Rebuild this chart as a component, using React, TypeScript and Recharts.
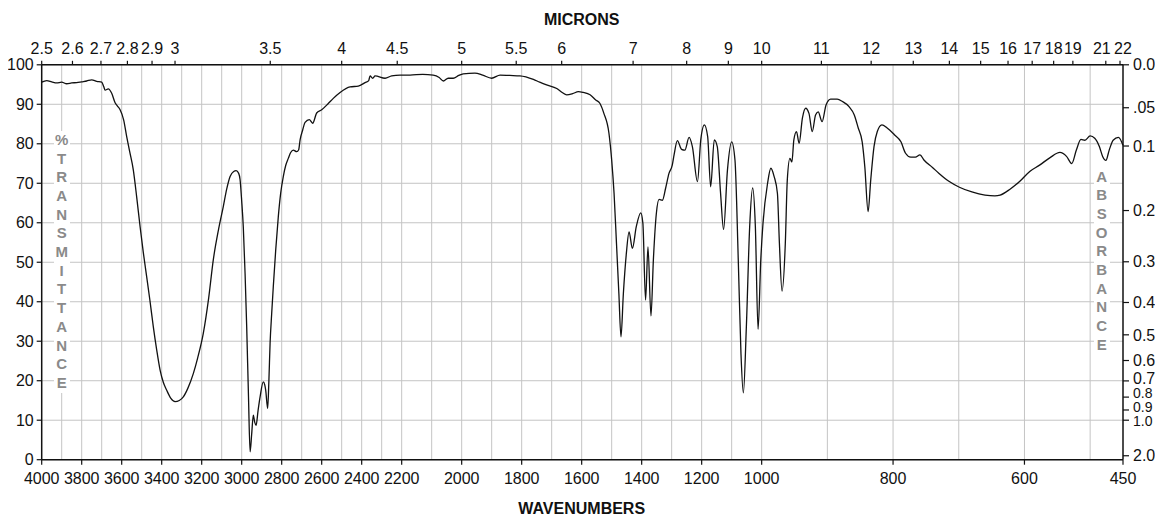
import React from 'react';
import { LineChart, Line, XAxis, YAxis, CartesianGrid } from 'recharts';

// ---- data (wavenumber in cm-1, % transmittance) ----
const wavenumbers = [
  4000, 3975, 3950, 3925, 3900, 3875, 3850, 3825, 3800, 3775, 3750, 3725, 3700, 3690, 3683, 3667, 3650, 3633, 3620, 3608,
  3590, 3575, 3560, 3542, 3525, 3508, 3492, 3475, 3458, 3442, 3425, 3408, 3392, 3375, 3355, 3333, 3312, 3292, 3270, 3242,
  3220, 3192, 3165, 3142, 3115, 3092, 3075, 3058, 3040, 3028, 3015, 3008, 3000, 2992, 2983, 2975, 2966, 2958, 2950, 2942,
  2935, 2928, 2918, 2908, 2892, 2885, 2880, 2870, 2864, 2858, 2850, 2842, 2830, 2817, 2805, 2792, 2780, 2767, 2755, 2742,
  2725, 2715, 2708, 2695, 2683, 2662, 2645, 2625, 2600, 2567, 2542, 2508, 2458, 2417, 2383, 2365, 2358, 2345, 2333, 2283,
  2250, 2208, 2172, 2130, 2095, 2075, 2061, 2045, 2028, 2010, 1995, 1956, 1930, 1900, 1872, 1840, 1806, 1761, 1740, 1717,
  1683, 1665, 1650, 1630, 1611, 1595, 1572, 1553, 1539, 1526, 1509, 1500, 1492, 1484, 1476, 1469, 1461, 1451, 1442, 1431,
  1418, 1403, 1396, 1387, 1379, 1369, 1361, 1351, 1342, 1331, 1320, 1309, 1298, 1292, 1281, 1267, 1256, 1242, 1231, 1214,
  1203, 1191, 1180, 1170, 1158, 1148, 1137, 1127, 1114, 1100, 1089, 1078, 1069, 1061, 1051, 1040, 1030, 1021, 1012, 1003,
  998, 991, 986, 981, 976, 973, 969, 964, 961, 957, 954, 951, 947, 943, 938, 933, 928, 923, 918, 914,
  908, 902, 895, 885, 877, 867, 859, 853, 847, 843, 838, 834, 829, 824, 817, 809, 798, 788, 781, 773,
  766, 759, 753, 740, 730, 715, 699, 680, 660, 645, 637, 622, 607, 592, 577, 561, 546, 536, 528, 521,
  514, 508, 500, 493, 486, 481, 476, 471, 465, 457, 450,
];

const transmittance = [
  95.6, 96.0, 95.7, 95.4, 95.6, 95.2, 95.4, 95.5, 95.7, 95.9, 96.2, 95.8, 95.6, 94.5, 93.6, 93.9, 92.8, 90.4, 89.5, 88.6,
  86.0, 81.8, 78.0, 73.4, 66.5, 59.0, 52.5, 46.3, 40.0, 33.7, 27.8, 22.7, 19.6, 17.6, 15.6, 14.7, 15.0, 15.9, 18.0, 21.8,
  25.8, 32.0, 41.0, 50.6, 58.5, 64.1, 68.5, 71.7, 73.0, 73.2, 72.5, 70.9, 65.5, 59.0, 47.0, 33.7, 16.0, 2.0, 6.5, 11.3,
  9.5, 8.7, 12.5, 15.9, 19.7, 19.0, 17.6, 13.0, 20.0, 29.5, 37.0, 43.8, 53.0, 61.5, 67.5, 71.7, 74.5, 76.3, 77.8, 78.4,
  78.0, 78.5, 81.0, 83.5, 85.4, 86.1, 85.2, 87.8, 88.6, 90.2, 91.5, 93.0, 94.4, 94.6, 95.5, 96.0, 97.2, 96.6, 97.2, 96.6,
  97.2, 97.4, 97.4, 97.6, 97.4, 96.8, 95.9, 96.6, 96.6, 97.3, 97.7, 97.9, 97.4, 96.6, 97.4, 97.3, 97.2, 96.3, 95.6, 94.9,
  94.0, 93.0, 92.4, 92.7, 93.2, 93.0, 92.4, 91.1, 90.2, 87.7, 82.6, 75.9, 67.4, 54.8, 42.1, 31.1, 42.1, 52.3, 57.7, 53.5,
  59.0, 62.5, 59.9, 40.4, 53.9, 36.4, 50.6, 62.4, 65.9, 65.7, 68.8, 72.5, 74.6, 77.2, 80.8, 78.6, 78.4, 81.6, 79.3, 70.4,
  81.0, 84.8, 81.8, 69.1, 81.0, 79.3, 67.5, 58.3, 73.4, 80.5, 75.9, 50.6, 26.9, 16.9, 33.7, 59.0, 68.8, 59.0, 33.0, 50.6,
  59.8, 70.0, 73.8, 71.7, 67.4, 54.8, 42.7, 54.8, 70.8, 76.3, 75.4, 81.0, 83.1, 80.1, 86.5, 89.0, 87.7, 83.1, 87.3, 88.1,
  85.6, 89.8, 91.3, 91.3, 90.7, 89.4, 87.3, 84.0, 80.5, 74.2, 62.8, 70.8, 79.3, 83.1, 84.8, 84.0, 82.3, 80.5, 77.6, 76.6,
  76.6, 77.2, 75.9, 74.0, 72.5, 70.5, 69.0, 67.8, 67.0, 66.8, 67.0, 68.5, 70.5, 73.0, 74.6, 76.5, 77.8, 76.8, 75.0, 78.4,
  81.1, 80.9, 82.0, 81.4, 79.3, 76.8, 75.8, 78.4, 80.9, 81.6, 79.6,
];

// ---- tick labels ----
const wavenumberTicks = [4000, 3800, 3600, 3400, 3200, 3000, 2800, 2600, 2400, 2200, 2000, 1800, 1600, 1400, 1200, 1000, 800, 600, 450];
const micronTicks = [2.5, 2.6, 2.7, 2.8, 2.9, 3, 3.5, 4, 4.5, 5, 5.5, 6, 7, 8, 9, 10, 11, 12, 13, 14, 15, 16, 17, 18, 19, 21, 22];
const micronLabels = ['2.5', '2.6', '2.7', '2.8', '2.9', '3', '3.5', '4', '4.5', '5', '5.5', '6', '7', '8', '9', '10', '11', '12', '13', '14', '15', '16', '17', '18', '19', '21', '22'];
const percentTicks = [0, 10, 20, 30, 40, 50, 60, 70, 80, 90, 100];
const absorbanceTicks = [0, 0.05, 0.1, 0.2, 0.3, 0.4, 0.5, 0.6, 0.7, 0.8, 0.9, 1.0, 2.0];
const absorbanceLabels = ['0.0', '.05', '0.1', '0.2', '0.3', '0.4', '0.5', '0.6', '0.7', '0.8', '0.9', '1.0', '2.0'];
const gridWavenumbers = [
  3900, 3800, 3700, 3600, 3500, 3400, 3300, 3200, 3100, 3000, 2900, 2800, 2700, 2600, 2500, 2400, 2300, 2200,
  2100, 2000, 1900, 1800, 1700, 1600, 1500, 1400, 1300, 1200, 1100, 1000, 900, 800, 700, 600, 500,
];

// piecewise-linear wavenumber axis (three segments, as on the chart paper)
function pos(w: number): number {
  if (w >= 2200) return (4000 - w) * 0.2;
  if (w >= 1000) return 360 + (2200 - w) * 0.3;
  return 720 + (1000 - w) * 0.657;
}
const P_MAX = pos(450);

const data = wavenumbers.map((w, i) => ({ p: pos(w), t: transmittance[i] }));

const bottomTickPos = wavenumberTicks.map(pos);
const topTickPos = micronTicks.map((m) => pos(10000 / m));
const absTickT = absorbanceTicks.map((a) => 100 * Math.pow(10, -a)).sort((a, b) => a - b);
const absLabelsSorted = absorbanceLabels.slice().reverse();

function nearestIndex(v: number, positions: number[]) {
  let best = 0;
  let bd = Infinity;
  positions.forEach((p, i) => {
    const d = Math.abs(p - v);
    if (d < bd) { bd = d; best = i; }
  });
  return best;
}

const FONT = '"Liberation Sans", Arial, Helvetica, sans-serif';
const tickStyle = { fontSize: 16, fill: '#111', fontFamily: FONT };
const axisLineStyle = { stroke: '#111', strokeWidth: 1.5 };
const tickLineStyle = { stroke: '#111', strokeWidth: 1.2 };

const micronNudge: Record<string, number> = { '21': -4, '22': 3 };
// crowded absorbance labels: slightly smaller, spread as on the chart paper
const absStyleTweak: Record<string, { size: number; dy: number }> = {
  '0.7': { size: 16, dy: -3 },
  '0.8': { size: 14, dy: -4 },
  '0.9': { size: 14, dy: -3 },
  '1.0': { size: 14, dy: 1 },
};

const TopTick = (props: any) => {
  const { x, y, payload } = props;
  const label = micronLabels[nearestIndex(payload.value, topTickPos)];
  const dx = micronNudge[label] || 0;
  return (
    <text x={x + dx} y={y} textAnchor="middle" fontSize={16} fill="#111" fontFamily={FONT}>
      {label}
    </text>
  );
};

const RightTick = (props: any) => {
  const { x, y, payload } = props;
  const label = absLabelsSorted[nearestIndex(payload.value, absTickT)];
  const tw = absStyleTweak[label];
  return (
    <text
      x={x}
      y={y + (tw ? tw.dy : 0)}
      dy="0.355em"
      textAnchor="start"
      fontSize={tw ? tw.size : 16}
      fill="#111"
      fontFamily={FONT}
    >
      {label}
    </text>
  );
};

const leftLetters = ['%', 'T', 'R', 'A', 'N', 'S', 'M', 'I', 'T', 'T', 'A', 'N', 'C', 'E'];
const rightLetters = ['A', 'B', 'S', 'O', 'R', 'B', 'A', 'N', 'C', 'E'];

const letterCol = (letters: string[], left: number, top: number) => (
  <div
    style={{
      position: 'absolute',
      left,
      top,
      width: 16,
      background: '#fff',
      fontFamily: FONT,
      fontWeight: 700,
      fontSize: 15,
      color: '#8a8a8a',
      lineHeight: '18.7px',
      textAlign: 'center',
    }}
  >
    {letters.map((l, i) => (
      <div key={i}>{l}</div>
    ))}
  </div>
);

export default function App() {
  return (
    <div style={{ position: 'relative', width: 1155, height: 508 }}>
      <LineChart
        width={1155}
        height={508}
        data={data}
        margin={{ top: 26.8, right: 0, bottom: 26.3, left: 3.7 }}
      >
        <CartesianGrid
          xAxisId="bottom"
          yAxisId="left"
          stroke="#c4c4c4"
          strokeWidth={1}
          verticalCoordinatesGenerator={(props: any) => {
            const xa = props && props.xAxis;
            const s = xa && xa.scale;
            if (typeof s === 'function') return gridWavenumbers.map((w) => s(pos(w)));
            const off = props.offset;
            return gridWavenumbers.map((w) => off.left + (pos(w) / P_MAX) * off.width);
          }}
        />
        <XAxis
          xAxisId="bottom"
          dataKey="p"
          type="number"
          orientation="bottom"
          domain={[0, P_MAX]}
          ticks={bottomTickPos}
          interval={0}
          height={30}
          tickSize={5}
          tickMargin={8}
          tick={tickStyle}
          axisLine={axisLineStyle}
          tickLine={tickLineStyle}
          tickFormatter={(v: number) => String(wavenumberTicks[nearestIndex(v, bottomTickPos)])}
        />
        <XAxis
          xAxisId="top"
          dataKey="p"
          type="number"
          orientation="top"
          domain={[0, P_MAX]}
          ticks={topTickPos}
          interval={0}
          height={30}
          tickSize={4}
          tickMargin={7}
          tick={<TopTick />}
          axisLine={axisLineStyle}
          tickLine={tickLineStyle}
        />
        <YAxis
          yAxisId="left"
          dataKey="t"
          type="number"
          domain={[0, 100]}
          ticks={percentTicks}
          interval={0}
          width={30}
          tickSize={5}
          tickMargin={3}
          tick={tickStyle}
          axisLine={axisLineStyle}
          tickLine={tickLineStyle}
        />
        <YAxis
          yAxisId="right"
          dataKey="t"
          orientation="right"
          type="number"
          domain={[0, 100]}
          ticks={absTickT}
          interval={0}
          width={40}
          tickSize={6}
          tickMargin={4}
          tick={<RightTick />}
          axisLine={axisLineStyle}
          tickLine={tickLineStyle}
        />
        <Line
          xAxisId="top"
          yAxisId="right"
          type="monotone"
          dataKey="t"
          stroke="none"
          strokeWidth={0}
          dot={false}
          activeDot={false}
          isAnimationActive={false}
        />
        <Line
          xAxisId="bottom"
          yAxisId="left"
          type="monotone"
          dataKey="t"
          stroke="#111"
          strokeWidth={1.3}
          dot={false}
          activeDot={false}
          isAnimationActive={false}
        />
      </LineChart>
      {letterCol(leftLetters, 45.7, 122.8)}
      {letterCol(rightLetters, 1085.7, 159.5)}
      <div
        style={{
          position: 'absolute', left: 473.7, width: 200, top: 4.2, textAlign: 'center',
          fontFamily: FONT, fontWeight: 700, fontSize: 16, lineHeight: '16px', color: '#111',
        }}
      >
        MICRONS
      </div>
      <div
        style={{
          position: 'absolute', left: 473.7, width: 200, top: 492.5, textAlign: 'center',
          fontFamily: FONT, fontWeight: 700, fontSize: 16, lineHeight: '16px', color: '#111',
        }}
      >
        WAVENUMBERS
      </div>
    </div>
  );
}
